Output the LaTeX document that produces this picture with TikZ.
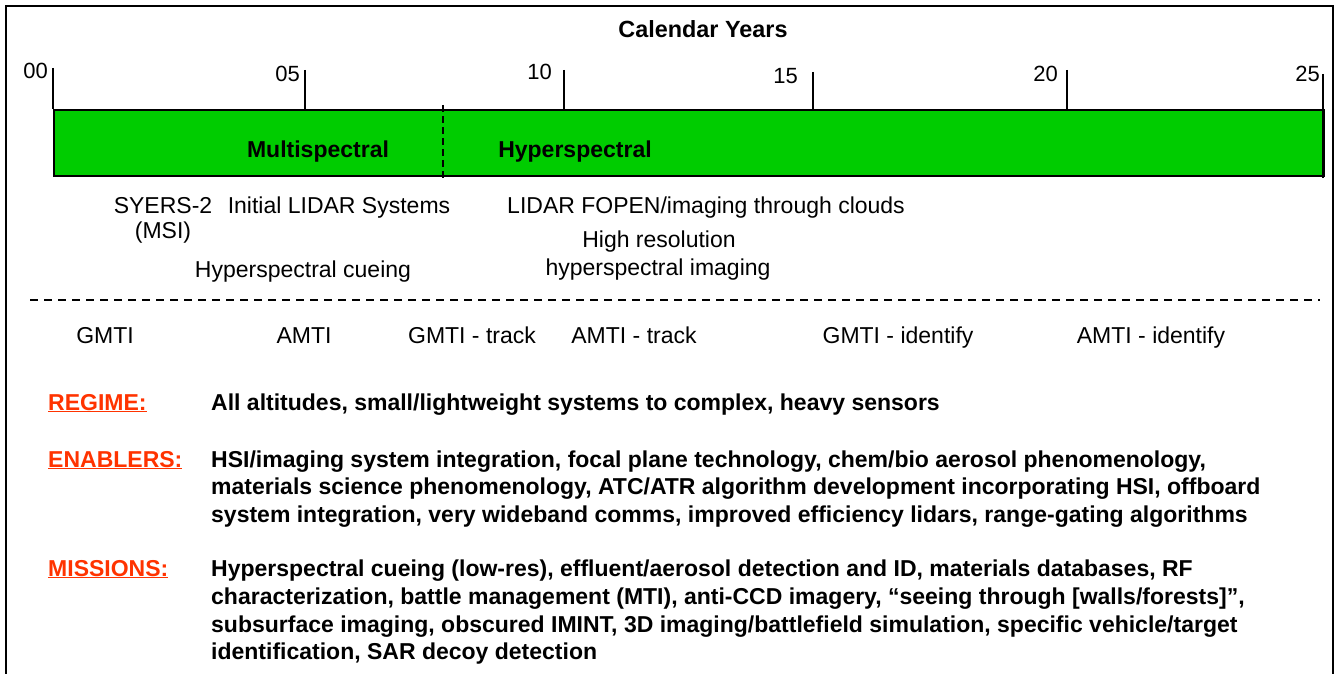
\documentclass[tikz,border=0pt]{standalone}
\usepackage{fontspec}
\setmainfont{Liberation Sans}
\definecolor{barg}{RGB}{0,204,0}
\definecolor{lab}{RGB}{255,51,0}
\begin{document}
\begin{tikzpicture}[x=1pt,y=-1pt,
  reg/.style={font=\fontsize{23}{27}\selectfont, inner sep=0pt, anchor=base},
  bld/.style={font=\fontsize{23}{27}\selectfont\bfseries, inner sep=0pt, anchor=base west},
  lbl/.style={font=\fontsize{23}{27}\selectfont\bfseries, text=lab, inner sep=0pt, anchor=base west},
  ticklab/.style={font=\fontsize{22}{26}\selectfont, inner sep=0pt, anchor=base east},
  tickline/.style={line width=1.6pt},
  frameline/.style={line width=2pt}]
\useasboundingbox (0,0) rectangle (1342,674);
% frame (open at bottom)
\coordinate (fbl) at (6,674);
\coordinate (ftl) at (6,6);
\coordinate (ftr) at (1333,6);
\coordinate (fbr) at (1333,674);
\draw[frameline] (fbl) -- (ftl) -- (ftr) -- (fbr);
% title
\node[font=\fontsize{23.4}{27}\selectfont\bfseries, inner sep=0pt, anchor=base] (title) at (703,38) {Calendar Years};
% bar
\node[draw, fill=barg, line width=2pt, minimum width=1270pt, minimum height=66pt, inner sep=0pt, anchor=north west] (bar) at (53,109) {};
% ticks
\coordinate (t00) at (53,68);
\coordinate (t05) at (305,70);
\coordinate (t10) at (564,70);
\coordinate (t15) at (813,72);
\coordinate (t20) at (1067,70);
\coordinate (t25) at (1323,74);
\coordinate (t25b) at (1323,178);
\foreach \t in {t00,t05,t10,t15,t20} \draw[tickline] (\t) -- (\t |- bar.north);
\draw[tickline] (t25) -- (t25b);
\node[ticklab] (l00) at (48,79) {00};
\node[ticklab] (l05) at (300,82) {05};
\node[ticklab] (l10) at (552,80) {10};
\node[ticklab] (l15) at (798,84) {15};
\node[ticklab] (l20) at (1058,82) {20};
\node[ticklab] (l25) at (1320,82) {25};
% divider in bar
\coordinate (dv1) at (443,105);
\coordinate (dv2) at (443,178);
\draw[line width=1.4pt, dash pattern=on 7pt off 4pt] (dv1) -- (dv2);
\node[font=\fontsize{23}{27}\selectfont\bfseries, inner sep=0pt, anchor=base] (multi) at (318,158) {Multispectral};
\node[font=\fontsize{23}{27}\selectfont\bfseries, inner sep=0pt, anchor=base] (hyper) at (575,158) {Hyperspectral};
% upper items
\node[reg] (syers) at (163,213) {SYERS-2};
\node[reg] (msi) at (163,238) {(MSI)};
\node[reg] (ilidar) at (339,213) {Initial LIDAR Systems};
\node[reg] (hcue) at (303,277) {Hyperspectral cueing};
\node[reg] (fopen) at (706,213) {LIDAR FOPEN/imaging through clouds};
\node[reg] (hres) at (659,247) {High resolution};
\node[reg] (himg) at (658,275) {hyperspectral imaging};
% separator
\coordinate (s1) at (30,300);
\coordinate (s2) at (1320,300);
\draw[line width=1.4pt, dash pattern=on 8pt off 6pt] (s1) -- (s2);
% MTI row
\node[reg] (m1) at (105,343) {GMTI};
\node[reg] (m2) at (304,343) {AMTI};
\node[reg] (m3) at (472,343) {GMTI - track};
\node[reg] (m4) at (634,343) {AMTI - track};
\node[reg] (m5) at (898,343) {GMTI - identify};
\node[reg] (m6) at (1151,343) {AMTI - identify};
% labelled blocks
\node[lbl] (regime) at (48,410) {\underline{REGIME:}};
\node[bld] (r1) at (211,410) {All altitudes, small/lightweight systems to complex, heavy sensors};
\node[lbl] (enab) at (48,467) {\underline{ENABLERS:}};
\node[bld] (e1) at (211,467) {HSI/imaging system integration, focal plane technology, chem/bio aerosol phenomenology,};
\node[bld] (e2) at (211,494.5) {materials science phenomenology, ATC/ATR algorithm development incorporating HSI, offboard};
\node[bld] (e3) at (211,522) {system integration, very wideband comms, improved efficiency lidars, range-gating algorithms};
\node[lbl] (miss) at (48,576) {\underline{MISSIONS:}};
\node[bld] (i1) at (211,576) {Hyperspectral cueing (low-res), effluent/aerosol detection and ID, materials databases, RF};
\node[bld] (i2) at (211,604) {characterization, battle management (MTI), anti-CCD imagery, “seeing through [walls/forests]”,};
\node[bld] (i3) at (211,632) {subsurface imaging, obscured IMINT, 3D imaging/battlefield simulation, specific vehicle/target};
\node[bld] (i4) at (211,659) {identification, SAR decoy detection};
\end{tikzpicture}
\end{document}
